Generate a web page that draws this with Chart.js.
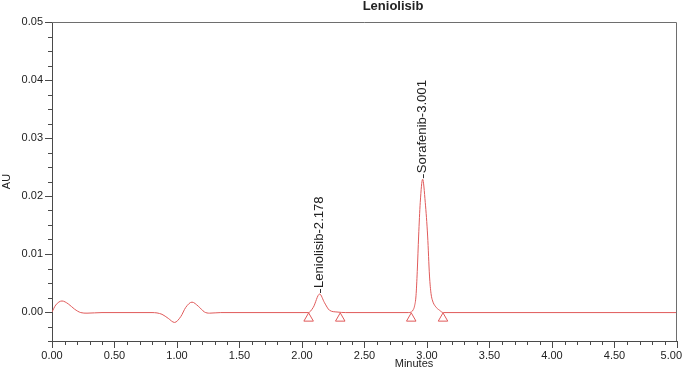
<!DOCTYPE html>
<html>
<head>
<meta charset="utf-8">
<title>Leniolisib</title>
<script src="https://cdn.jsdelivr.net/npm/chart.js"></script>
<style>
  html, body { margin: 0; padding: 0; background: #fff; }
  #wrap { width: 685px; height: 371px; }
</style>
</head>
<body>
<div id="wrap"><canvas id="chromChart" width="685" height="371"></canvas></div>
<script>
const chartTitle = 'Leniolisib';
const xAxisTitle = 'Minutes';
const yAxisTitle = 'AU';

// detector trace: time (min) and absorbance (AU)
const traceTimes = [0.00, 0.03, 0.08, 0.13, 0.18, 0.23, 0.28, 0.40, 0.60, 0.80,
    0.88, 0.93, 0.98, 1.03, 1.07, 1.12, 1.17, 1.22, 1.26, 1.35,
    2.00, 2.05, 2.09, 2.141, 2.18, 2.22, 2.28, 2.35,
    2.85, 2.875, 2.89, 2.90, 2.912, 2.922, 2.933, 2.946, 2.965, 2.986, 3.005, 3.02, 3.032, 3.045, 3.066, 3.10, 3.13,
    4.00, 5.00];
const traceAU = [0.0000, 0.0012, 0.0019, 0.0014, 0.0005, -0.0001, -0.0002, -0.0001, -0.0001, -0.0001,
    -0.0004, -0.0011, -0.0018, -0.0008, 0.0008, 0.0017, 0.0010, 0.0000, -0.0002, -0.0001,
    -0.0001, -0.0001, 0.0008, 0.0031, 0.0016, 0.0003, 0.0000, -0.0001,
    -0.0001, 0.0000, 0.0004, 0.0010, 0.0028, 0.0070, 0.0131, 0.0189, 0.0229, 0.0189, 0.0131, 0.0062, 0.0032, 0.0019, 0.0010, 0.0003, -0.0001,
    -0.0001, -0.0001];

// peak start / end markers (triangles under the baseline)
const markerTimes = [2.053, 2.306, 2.874, 3.128];
const markerAU = [-0.0011, -0.0011, -0.0011, -0.0011];

// named peaks
const peakNames = ['Leniolisib-2.178', 'Sorafenib-3.001'];
const peakTimes = [2.141, 2.965];
const peakAU = [0.0031, 0.0229];

const xMin = 0, xMax = 5, xMajor = 0.5, xMinor = 0.1;
const yMin = -0.005, yMax = 0.05, yMajor = 0.01, yMinor = 0.0025;

const traceColor = '#e05a5a';
const axisColor = '#4a4a4a';
const textColor = '#222';
const fontFamily = "'Liberation Sans', Arial, sans-serif";

const isMajor = (v, step) => Math.abs(v / step - Math.round(v / step)) < 1e-6;
const fmt = v => (Math.abs(v) < 1e-9 ? 0 : v).toFixed(2);

// frame, minor ticks, peak names and the free-standing titles
const chromExtras = {
    id: 'chromExtras',
    afterDraw(chart) {
        const { ctx, chartArea: a, scales: { x, y } } = chart;
        ctx.save();
        ctx.lineWidth = 1;

        ctx.strokeStyle = '#6e6e6e';
        ctx.beginPath();
        ctx.moveTo(a.left, a.top + 0.5);
        ctx.lineTo(a.right - 0.5, a.top + 0.5);
        ctx.lineTo(a.right - 0.5, a.bottom);
        ctx.stroke();

        ctx.strokeStyle = axisColor;
        ctx.beginPath();
        x.ticks.forEach(t => {
            if (isMajor(t.value, xMajor)) return;
            const px = Math.round(x.getPixelForValue(t.value)) + 0.5;
            ctx.moveTo(px, a.bottom);
            ctx.lineTo(px, a.bottom + 4);
        });
        y.ticks.forEach(t => {
            if (isMajor(t.value, yMajor)) return;
            const py = Math.round(y.getPixelForValue(t.value)) + 0.5;
            ctx.moveTo(a.left, py);
            ctx.lineTo(a.left - 4, py);
        });
        ctx.stroke();

        // last x label kept inside the canvas
        ctx.fillStyle = textColor;
        ctx.font = '11px ' + fontFamily;
        ctx.textAlign = 'right';
        ctx.textBaseline = 'middle';
        ctx.fillText(fmt(xMax), a.right + 5, a.bottom + 7 + 1 + 6.6);

        // peak names, written upwards from the apex
        peakNames.forEach((name, i) => {
            const px = x.getPixelForValue(peakTimes[i]);
            const py = y.getPixelForValue(peakAU[i]);
            ctx.strokeStyle = '#333';
            ctx.beginPath();
            ctx.moveTo(Math.round(px) + 0.5, py - 1);
            ctx.lineTo(Math.round(px) + 0.5, py - 5);
            ctx.stroke();
            ctx.save();
            ctx.translate(px, py - 6);
            ctx.rotate(-Math.PI / 2);
            ctx.scale(1.09, 1);
            ctx.font = '12px ' + fontFamily;
            ctx.textAlign = 'left';
            ctx.textBaseline = 'middle';
            ctx.fillText(name, 0, 0);
            ctx.restore();
        });

        ctx.textAlign = 'center';
        ctx.textBaseline = 'middle';
        ctx.font = 'bold 13px ' + fontFamily;
        ctx.fillText(chartTitle, 393, 6);
        ctx.font = '11px ' + fontFamily;
        ctx.fillText(xAxisTitle, 414, 364);
        ctx.restore();
    }
};

const canvas = document.getElementById('chromChart');
new Chart(canvas, {
    type: 'scatter',
    data: {
        datasets: [{
            type: 'line',
            label: 'trace',
            data: traceTimes.map((t, i) => ({ x: t, y: traceAU[i] })),
            borderColor: traceColor,
            borderWidth: 1,
            pointRadius: 0,
            fill: false,
            cubicInterpolationMode: 'monotone'
        }, {
            label: 'markers',
            data: markerTimes.map((t, i) => ({ x: t, y: markerAU[i] })),
            pointStyle: 'triangle',
            pointRadius: 5.5,
            pointBorderWidth: 1,
            pointBorderColor: traceColor,
            pointBackgroundColor: 'rgba(0,0,0,0)',
            showLine: false
        }]
    },
    options: {
        responsive: false,
        animation: false,
        devicePixelRatio: 1,
        layout: { padding: { top: 22, right: 8, left: 0, bottom: 0 } },
        plugins: {
            legend: { display: false },
            tooltip: { enabled: false },
            title: { display: false }
        },
        scales: {
            x: {
                type: 'linear',
                min: xMin,
                max: xMax,
                afterFit: scale => {
                    scale.height = 30;
                    scale.paddingRight = 0;
                },
                border: { display: true, color: axisColor, width: 1 },
                grid: {
                    drawOnChartArea: false,
                    drawTicks: true,
                    tickLength: 7,
                    tickColor: c => (c.tick && isMajor(c.tick.value, xMajor)) ? axisColor : 'rgba(0,0,0,0)'
                },
                ticks: {
                    stepSize: xMinor,
                    autoSkip: false,
                    maxRotation: 0,
                    padding: 1,
                    color: textColor,
                    font: { family: fontFamily, size: 11 },
                    callback: v => (isMajor(v, xMajor) && v < xMax - 1e-6) ? fmt(v) : ''
                }
            },
            y: {
                min: yMin,
                max: yMax,
                afterFit: scale => { scale.width = 52; },
                border: { display: true, color: axisColor, width: 1 },
                grid: {
                    drawOnChartArea: false,
                    drawTicks: true,
                    tickLength: 7,
                    tickColor: c => (c.tick && isMajor(c.tick.value, yMajor)) ? axisColor : 'rgba(0,0,0,0)'
                },
                ticks: {
                    stepSize: yMinor,
                    autoSkip: false,
                    padding: 2,
                    color: textColor,
                    font: { family: fontFamily, size: 11 },
                    callback: v => isMajor(v, yMajor) ? fmt(v) : ''
                },
                title: {
                    display: true,
                    text: yAxisTitle,
                    color: textColor,
                    font: { family: fontFamily, size: 11 },
                    padding: { top: 0, bottom: 0 }
                }
            }
        }
    },
    plugins: [chromExtras]
});
</script>
</body>
</html>
